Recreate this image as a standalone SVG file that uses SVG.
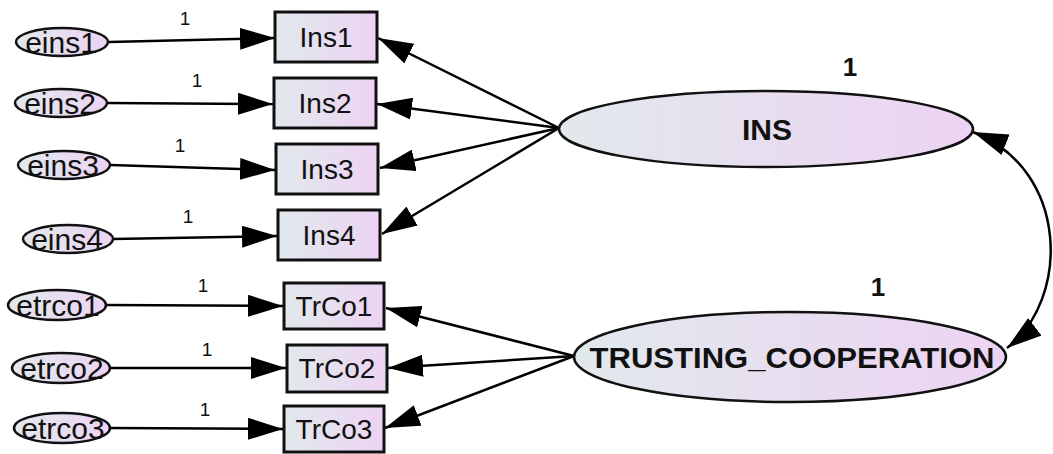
<svg xmlns="http://www.w3.org/2000/svg" width="1053" height="454" viewBox="0 0 1053 454">
<defs>
<linearGradient id="g" x1="0" y1="0" x2="1" y2="0">
<stop offset="0" stop-color="#e1e9ec"/>
<stop offset="1" stop-color="#edd3f3"/>
</linearGradient>
<marker id="ah" viewBox="0 0 35 22" refX="35" refY="11" markerWidth="35" markerHeight="22" markerUnits="userSpaceOnUse" orient="auto-start-reverse">
<path d="M0,0 L35,11 L0,22 z" fill="#000"/>
</marker>
<style>
.box{fill:url(#g);stroke:#111;stroke-width:3}
.ell{fill:url(#g);stroke:#111;stroke-width:2.5}
.lbl{font-family:"Liberation Sans",Arial,sans-serif;font-size:28px;fill:#111;text-anchor:middle}
.elbl{font-family:"Liberation Sans",Arial,sans-serif;font-size:30px;fill:#111;text-anchor:middle}
.big{font-family:"Liberation Sans",Arial,sans-serif;font-size:30px;font-weight:bold;fill:#111;text-anchor:middle}
.one{font-family:"Liberation Sans",Arial,sans-serif;font-size:19px;fill:#111;text-anchor:middle}
.oneb{font-family:"Liberation Sans",Arial,sans-serif;font-size:26px;font-weight:bold;fill:#111;text-anchor:middle}
.c{fill:none;stroke:#000;stroke-width:2.5}
</style>
</defs>

<g id="connectors">
<line class="c" x1="109" y1="42" x2="275" y2="38" marker-end="url(#ah)"/>
<line class="c" x1="107" y1="103" x2="273" y2="104" marker-end="url(#ah)"/>
<line class="c" x1="110" y1="165" x2="275" y2="170" marker-end="url(#ah)"/>
<line class="c" x1="113" y1="239" x2="277" y2="236" marker-end="url(#ah)"/>
<line class="c" x1="106" y1="305" x2="283" y2="306" marker-end="url(#ah)"/>
<line class="c" x1="110" y1="368" x2="286" y2="368" marker-end="url(#ah)"/>
<line class="c" x1="110" y1="428" x2="283" y2="429" marker-end="url(#ah)"/>
<line class="c" x1="559" y1="128" x2="378" y2="38" marker-end="url(#ah)"/>
<line class="c" x1="559" y1="128" x2="377" y2="104" marker-end="url(#ah)"/>
<line class="c" x1="559" y1="128" x2="380" y2="168" marker-end="url(#ah)"/>
<line class="c" x1="559" y1="128" x2="382" y2="234" marker-end="url(#ah)"/>
<line class="c" x1="574" y1="356" x2="386" y2="308" marker-end="url(#ah)"/>
<line class="c" x1="574" y1="356" x2="388" y2="368" marker-end="url(#ah)"/>
<line class="c" x1="574" y1="356" x2="385" y2="428" marker-end="url(#ah)"/>
<path class="c" d="M973,132 C1070,170 1070,300 1007,348" marker-start="url(#ah)" marker-end="url(#ah)"/>
<text class="one" x="185" y="25">1</text>
<text class="one" x="197" y="87">1</text>
<text class="one" x="180" y="152">1</text>
<text class="one" x="188" y="223">1</text>
<text class="one" x="203" y="292">1</text>
<text class="one" x="207" y="356">1</text>
<text class="one" x="205" y="416">1</text>
</g>

<g id="eins1"><ellipse class="ell" cx="62" cy="42" rx="46" ry="14"/><text class="elbl" x="61" y="53">eins1</text></g>
<g id="eins2"><ellipse class="ell" cx="61" cy="103" rx="46" ry="14"/><text class="elbl" x="60" y="114">eins2</text></g>
<g id="eins3"><ellipse class="ell" cx="64" cy="165" rx="46" ry="14"/><text class="elbl" x="63" y="176">eins3</text></g>
<g id="eins4"><ellipse class="ell" cx="68" cy="239" rx="45" ry="14"/><text class="elbl" x="67" y="250">eins4</text></g>
<g id="etrco1"><ellipse class="ell" cx="57" cy="305" rx="49" ry="15"/><text class="elbl" x="58" y="316">etrco1</text></g>
<g id="etrco2"><ellipse class="ell" cx="61" cy="368" rx="49" ry="15"/><text class="elbl" x="62" y="379">etrco2</text></g>
<g id="etrco3"><ellipse class="ell" cx="62" cy="428" rx="48" ry="15"/><text class="elbl" x="63" y="439">etrco3</text></g>

<g id="Ins1"><rect class="box" x="275" y="12" width="102" height="50"/><text class="lbl" x="326" y="47">Ins1</text></g>
<g id="Ins2"><rect class="box" x="274" y="78" width="102" height="50"/><text class="lbl" x="325" y="113">Ins2</text></g>
<g id="Ins3"><rect class="box" x="276" y="144" width="102" height="50"/><text class="lbl" x="327" y="179">Ins3</text></g>
<g id="Ins4"><rect class="box" x="278" y="210" width="102" height="50"/><text class="lbl" x="329" y="245">Ins4</text></g>
<g id="TrCo1"><rect class="box" x="284" y="283" width="100" height="46"/><text class="lbl" x="334" y="316">TrCo1</text></g>
<g id="TrCo2"><rect class="box" x="287" y="345" width="100" height="47"/><text class="lbl" x="337" y="378">TrCo2</text></g>
<g id="TrCo3"><rect class="box" x="284" y="406" width="100" height="46"/><text class="lbl" x="334" y="439">TrCo3</text></g>

<g id="INS"><ellipse class="ell" cx="766" cy="129" rx="207" ry="38"/><text class="big" x="767" y="140">INS</text><text class="oneb" x="850" y="76">1</text></g>
<g id="TRUSTING_COOPERATION"><ellipse class="ell" cx="790" cy="357" rx="216" ry="45"/><text class="big" x="792" y="368" textLength="405" lengthAdjust="spacingAndGlyphs">TRUSTING_COOPERATION</text><text class="oneb" x="878" y="296">1</text></g>
</svg>
